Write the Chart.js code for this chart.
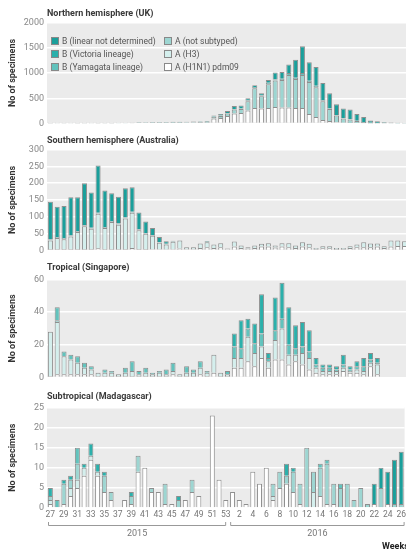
<!DOCTYPE html>
<html lang="en">
<head>
<meta charset="UTF-8">
<title>Influenza specimens by week</title>
<style>
  html, body { margin: 0; padding: 0; background: #fff; }
  body { width: 406px; height: 554px; overflow: hidden; position: relative; font-family: Roboto, "Noto Sans", sans-serif; }
  .panel { position: absolute; left: 0; width: 408px; }
  .title { position: absolute; left: 47px; font-size: 9px; line-height: 12px; font-weight: bold; color: #3a3a3a; white-space: nowrap; z-index: 2; }
  .legend { position: absolute; font-size: 8.5px; color: #555; white-space: nowrap; z-index: 2; }
  .legend span { position: absolute; line-height: 10px; }
  .legend i { display: inline-block; width: 6px; height: 6px; border: 1px solid #888; margin-right: 3px; vertical-align: -1px; }
</style>
</head>
<body>

<div class="title" style="top:7px">Northern hemisphere (UK)</div>
<div class="title" style="top:134px">Southern hemisphere (Australia)</div>
<div class="title" style="top:261px">Tropical (Singapore)</div>
<div class="title" style="top:390px">Subtropical (Madagascar)</div>

<div class="legend" style="left:51px; top:36px">
  <span style="left:0; top:0"><i style="background:#1a9f9b"></i>B (linear not determined)</span>
  <span style="left:0; top:13px"><i style="background:#2bb0ab"></i>B (Victoria lineage)</span>
  <span style="left:0; top:26px"><i style="background:#62c3bd"></i>B (Yamagata lineage)</span>
  <span style="left:113px; top:0"><i style="background:#9dd6d2"></i>A (not subtyped)</span>
  <span style="left:113px; top:13px"><i style="background:#d4efed"></i>A (H3)</span>
  <span style="left:113px; top:26px"><i style="background:#ffffff"></i>A (H1N1) pdm09</span>
</div>

<div class="panel" style="top:14px; height:118px"><canvas id="uk"></canvas></div>
<div class="panel" style="top:141px; height:118px"><canvas id="au"></canvas></div>
<div class="panel" style="top:271px; height:115px"><canvas id="sg"></canvas></div>
<div class="panel" style="top:399px; height:155px"><canvas id="md"></canvas></div>

<script src="https://cdn.jsdelivr.net/npm/chart.js"></script>
<script>
    // weeks 27-53 of 2015, then 1-26 of 2016
    const weeks = ['27','28','29','30','31','32','33','34','35','36','37','38','39','40','41','42','43','44','45','46','47','48','49','50','51','52','53',
                   '1','2','3','4','5','6','7','8','9','10','11','12','13','14','15','16','17','18','19','20','21','22','23','24','25','26'];
    const seriesNames = ['A (H1N1) pdm09', 'A (H3)', 'A (not subtyped)', 'B (Yamagata lineage)', 'B (Victoria lineage)', 'B (linear not determined)'];
    const seriesColors = ['#ffffff', '#d4efed', '#9dd6d2', '#62c3bd', '#2bb0ab', '#1a9f9b'];

    // Northern hemisphere (UK)
    const ukH1  = [4,3,4,3,4,4,3,4,4,4,5,5,6, 10,12,12,12,13,14,14,15,16,17,18, 100,110,150,
                   200,210,260,310,300,310,330,320,320,310,310,190,130,70,50,25,15,12,10,6,4,3,2,2,1,1];
    const ukH3  = [0,0,0,0,0,0,0,0,0,0,0,0,0,0,0,0,0,0,0,0,0,0,0,0,0,0,0,
                   0,0,0,0,0,0,0,0,0,0,0,0,0,0,0,0,0,0,0,0,0,0,0,0,0,0];
    const ukNs  = [3,3,3,3,3,3,3,3,3,3,4,4,5, 8,9,10,10,10,11,11,12,12,13,14, 30,40,50,
                   80,80,180,390,240,470,520,540,640,570,650,630,590,370,240,135,85,68,40,24,11,7,4,3,3,2];
    const ukYam = [0,0,0,0,0,0,0,0,0,0,0,0,0, 0,0,0,0,0,0,0,0,0,0,0, 10,10,10,
                   10,10,20,25,15,25,20,25,40,25,40,25,30,20,15,10,5,5,5,3,2,1,1,0,0,0];
    const ukVic = [0,0,0,0,0,0,0,0,0,0,0,0,0,0,0,0,0,0,0,0,0,0,0,0,0,0,0,
                   0,0,0,0,0,0,0,0,0,0,0,0,0,0,0,0,0,0,0,0,0,0,0,0,0,0];
    const ukNd  = [3,2,2,2,3,2,2,3,2,3,3,3,4, 7,7,8,8,9,10,10,11,12,12,13, 20,30,40,
                   60,60,40,35,45,55,140,135,170,355,530,365,370,340,295,210,195,195,135,97,43,34,18,15,11,7];

    // Southern hemisphere (Australia)
    const auH1  = [5,5,5,5,5,5,5,7,5,5,5,5,8,5,5,4,4,3,4,6,4,4,8,10,8,10,4,
                   12,8,6,8,12,12,9,12,10,8,12,10,5,7,7,5,5,8,10,10,10,12,8,12,14,14];
    const auH3  = [25,32,29,37,50,67,60,102,62,80,72,90,104,55,45,40,19,15,22,24,6,6,13,15,10,12,2,
                   15,7,4,7,8,10,6,10,12,7,13,10,3,6,6,3,3,5,8,15,11,9,5,18,16,14];
    const auNs  = [3,3,3,3,3,3,3,3,3,3,3,3,3,3,2,2,2,2,1,1,0,0,0,0,0,0,0,
                   0,0,0,0,0,0,0,0,0,0,0,0,0,0,0,0,0,0,0,0,0,0,0,0,0,0];
    const auYam = [0,0,0,0,0,0,0,0,0,0,0,0,0,0,0,0,0,0,0,0,0,0,0,0,0,0,0,
                   0,0,0,0,0,0,0,0,0,0,0,0,0,0,0,0,0,0,0,0,0,0,0,0,0,0];
    const auVic = [0,0,0,0,0,0,0,0,0,0,0,0,0,0,0,0,0,0,0,0,0,0,0,0,0,0,0,
                   0,0,0,0,0,0,0,0,0,0,0,0,0,0,0,0,0,0,0,0,0,0,0,0,0,0];
    const auNd  = [112,90,95,113,100,125,104,140,108,82,80,87,73,50,34,21,15,8,2,0,0,0,0,3,0,0,0,
                   0,0,0,0,0,0,0,0,0,0,0,0,0,0,0,0,0,0,0,0,0,0,0,0,0,0];

    // Tropical (Singapore)
    const sgH1  = [1,2,2,2,2,2,2,1,1,1,1,1,1,1,1,1,1,1,2,1,1,1,2,1,3,1,1,
                   6,6,10,7,12,6,11,11,8,10,8,5,3,2,2,2,4,3,3,2,7,2,0,0,0,0];
    const sgH3  = [27,32,11,9,7,4,3,2,2,2,1,2,3,1,2,1,2,1,2,1,2,2,4,2,11,2,1,
                   6,6,15,8,7,4,12,19,6,4,7,7,3,2,2,2,2,1,2,2,2,6,0,0,0,0];
    const sgNs  = [0,1,0,0,0,0,0,0,0,0,0,0,0,0,0,0,0,0,0,0,0,0,0,0,0,0,0,
                   0,0,0,0,0,0,0,0,0,0,0,0,0,0,0,0,0,0,0,0,0,0,0,0,0,0];
    const sgYam = [0,8,3,3,4,3,2,0,2,1,0,3,6,2,3,1,1,3,5,0,4,2,4,1,0,0,2,
                   7,6,5,6,8,2,6,6,6,4,4,4,2,2,2,1,2,1,2,3,2,1,0,0,0,0];
    const sgVic = [0,0,0,0,0,0,0,0,0,0,0,0,0,0,0,0,0,0,0,0,0,0,0,0,0,0,0,
                   8,17,6,12,24,3,20,22,23,14,15,13,4,2,2,2,6,2,3,5,4,3,0,0,0,0];
    const sgNd  = [0,0,0,0,0,0,0,0,0,0,0,0,0,0,0,0,0,0,0,0,0,0,0,0,0,0,0,
                   0,0,0,0,0,0,0,0,0,0,0,0,0,0,0,0,0,0,0,0,0,0,0,0,0,0];

    // Subtropical (Madagascar)
    const mdH1  = [1,0,1,3,5,8,12,8,4,2,0,2,1,9,10,4,4,1,1,0,2,4,3,0,23,7,2,
                   4,2,1,9,6,10,2,5,6,4,1,0,0,3,1,1,0,0,0,0,0,1,0,1,0,0];
    const mdH3  = [1,0,0,2,2,2,1,1,0,0,0,0,0,0,0,0,0,0,0,0,0,0,0,0,0,0,0,
                   0,0,0,0,0,0,1,0,0,0,0,0,4,0,0,0,0,0,0,0,0,0,0,0,0,0];
    const mdNs  = [1,0,5,2,4,0,0,0,4,2,0,0,2,4,0,1,0,5,0,2,0,3,0,0,0,0,0,
                   0,0,0,0,0,0,3,4,2,5,5,15,5,7,10,5,5,6,2,5,1,0,5,0,1,1];
    const mdYam = [0,2,0,0,4,0,0,0,0,0,0,0,0,0,0,0,0,0,0,0,0,0,0,0,0,0,0,
                   0,0,0,0,0,0,0,0,0,0,0,0,0,1,1,0,1,0,0,0,0,0,0,0,0,0];
    const mdVic = [2,0,1,1,0,1,3,2,1,0,0,0,1,0,0,0,0,0,0,1,0,0,0,0,0,0,0,
                   0,0,0,0,0,0,0,0,3,1,0,0,0,0,0,0,0,0,0,0,0,0,0,0,0,0];
    const mdNd  = [0,0,0,0,0,0,0,0,0,0,0,0,0,0,0,0,0,0,0,0,0,0,0,0,0,0,0,
                   0,0,0,0,0,0,0,0,0,0,0,0,0,0,0,0,0,0,0,0,0,5,5,8,11,13];

    const tickFont = { family: 'Roboto, "Noto Sans", sans-serif', size: 9 };

    // grey plot background behind the white grid lines
    const plotBg = {
        id: 'plotBg',
        beforeDraw(chart) {
            const { ctx, chartArea: a } = chart;
            ctx.save();
            ctx.fillStyle = '#ebebeb';
            ctx.fillRect(a.left, a.top, a.right - a.left, a.bottom - a.top);
            ctx.restore();
        }
    };

    // year brackets and "Weeks" label under the bottom panel
    const yearBrackets = {
        id: 'yearBrackets',
        afterDraw(chart) {
            const { ctx, chartArea: a, scales: { x } } = chart;
            const half = (x.getPixelForValue(1) - x.getPixelForValue(0)) / 2;
            const split = x.getPixelForValue(26) + half;
            const y = a.bottom + 17;
            const spans = [
                [a.left + 1, split - 3, '2015'],
                [split + 1, a.right, '2016']
            ];
            ctx.save();
            ctx.strokeStyle = '#999';
            ctx.lineWidth = 1;
            ctx.fillStyle = '#777';
            ctx.font = '9px Roboto, "Noto Sans", sans-serif';
            ctx.textAlign = 'center';
            ctx.textBaseline = 'middle';
            spans.forEach(([x0, x1, label]) => {
                ctx.beginPath();
                ctx.moveTo(x0 + 0.5, y - 3);
                ctx.lineTo(x0 + 0.5, y + 0.5);
                ctx.lineTo(x1 - 0.5, y + 0.5);
                ctx.lineTo(x1 - 0.5, y - 3);
                ctx.stroke();
                ctx.fillText(label, (x0 + Math.min(x1, 406)) / 2, y + 9);
            });
            ctx.fillStyle = '#222';
            ctx.font = 'bold 9px Roboto, "Noto Sans", sans-serif';
            ctx.textAlign = 'left';
            ctx.fillText('Weeks', 382, y + 22);
            ctx.restore();
        }
    };

    function makeChart(id, series, yMax, step, showX) {
        const datasets = series.map((values, i) => ({
            label: seriesNames[i],
            data: values,
            backgroundColor: seriesColors[i],
            borderColor: '#8e8e8e',
            borderWidth: 1,
            barPercentage: 0.74,
            categoryPercentage: 1
        }));
        const xScale = {
            stacked: true,
            display: showX,
            grid: { display: false, drawTicks: false },
            border: { display: false },
            ticks: {
                autoSkip: false,
                maxRotation: 0,
                padding: 2,
                color: '#777',
                font: { family: tickFont.family, size: 8.5 },
                callback: (v, i) => i % 2 === 0 ? weeks[i] : ''
            }
        };
        if (showX) xScale.afterFit = s => { s.height = 46; };
        return new Chart(document.getElementById(id), {
            type: 'bar',
            data: { labels: weeks, datasets: datasets },
            options: {
                responsive: true,
                maintainAspectRatio: false,
                animation: false,
                layout: { padding: { top: 6, bottom: showX ? 0 : 6, left: 0, right: 0 } },
                plugins: { legend: { display: false }, tooltip: { enabled: false } },
                scales: {
                    x: xScale,
                    y: {
                        stacked: true,
                        min: 0,
                        max: yMax,
                        grid: { color: '#ffffff', lineWidth: 1.5, drawTicks: false },
                        border: { display: false },
                        ticks: { stepSize: step, color: '#888', font: tickFont, padding: 3, callback: v => String(v) },
                        title: {
                            display: true,
                            text: 'No of specimens',
                            color: '#333',
                            font: { family: tickFont.family, size: 9, weight: 'bold' },
                            padding: { top: 7, bottom: 0 }
                        },
                        afterFit(s) { s.width = 47; }
                    }
                }
            },
            plugins: showX ? [plotBg, yearBrackets] : [plotBg]
        });
    }

    makeChart('uk', [ukH1, ukH3, ukNs, ukYam, ukVic, ukNd], 2000, 500, false);
    makeChart('au', [auH1, auH3, auNs, auYam, auVic, auNd], 300, 50, false);
    makeChart('sg', [sgH1, sgH3, sgNs, sgYam, sgVic, sgNd], 60, 20, false);
    makeChart('md', [mdH1, mdH3, mdNs, mdYam, mdVic, mdNd], 25, 5, true);
</script>
</body>
</html>
